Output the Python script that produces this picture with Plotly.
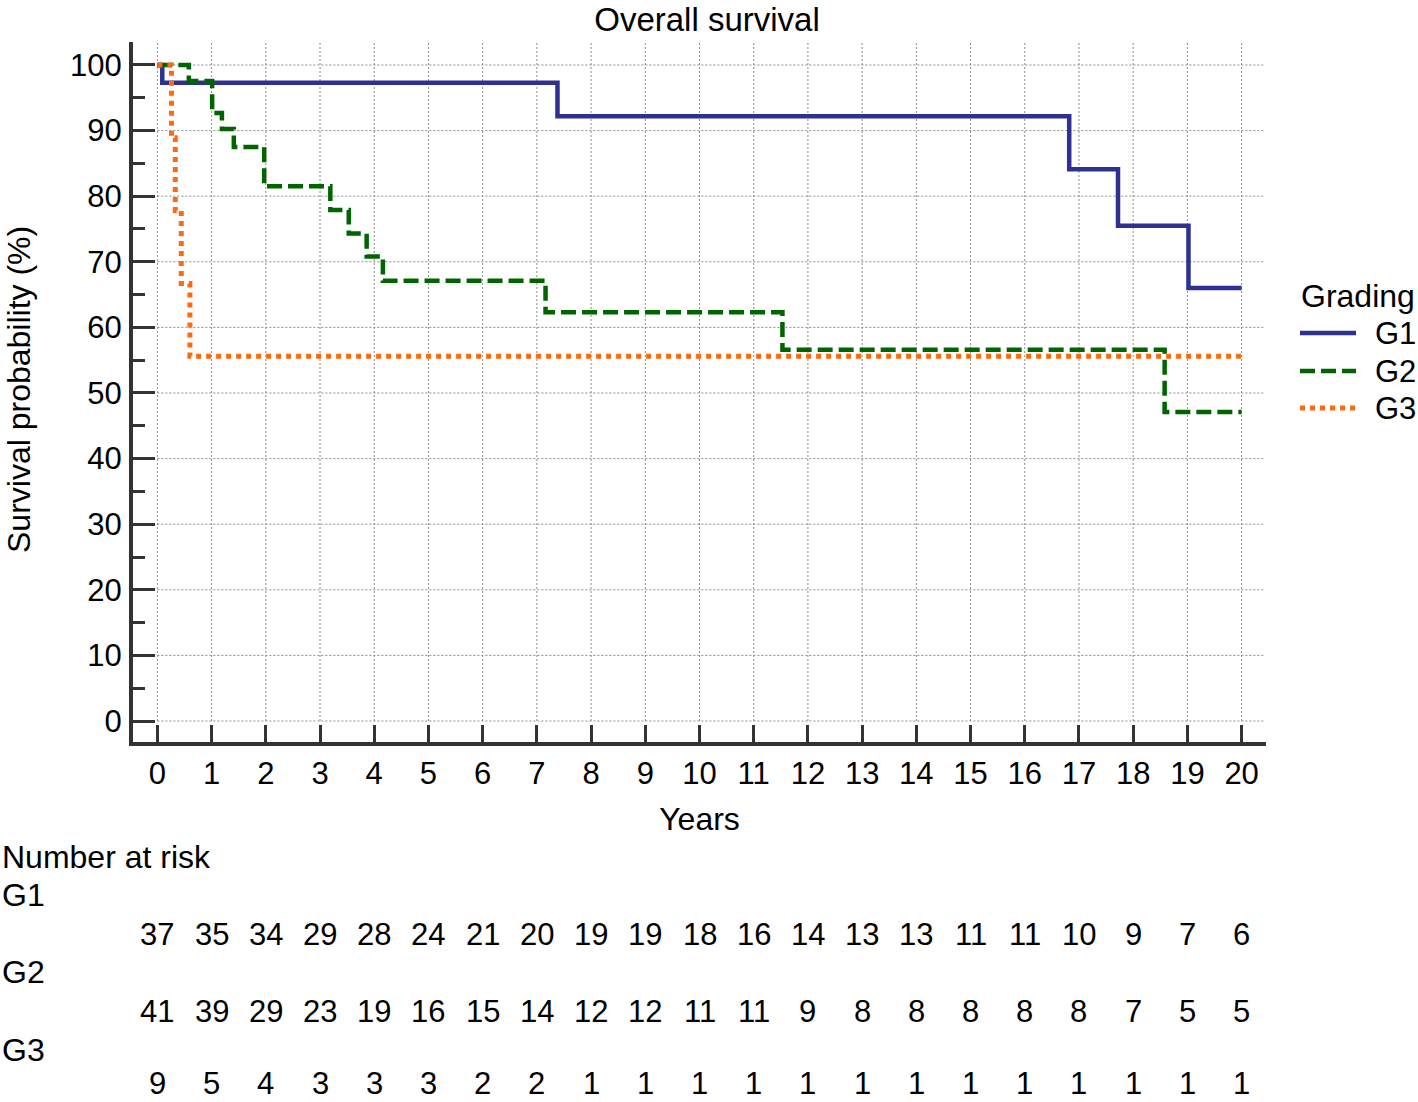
import plotly.graph_objects as go

# ---- data ----
g1_t = [0, 0.09, 7.38, 16.82, 17.72, 19.02, 20]
g1_s = [100, 97.3, 92.2, 84.1, 75.5, 66.0, 66.0]

g2_t = [0, 0.58, 1.01, 1.19, 1.41, 1.97, 3.19, 3.53, 3.86, 4.16, 7.16, 11.53, 18.58, 20]
g2_s = [100, 97.56, 92.68, 90.24, 87.5, 81.5, 77.9, 74.3, 70.8, 67.1, 62.3, 56.6, 47.1, 47.1]

g3_t = [0, 0.26, 0.33, 0.44, 0.60, 20]
g3_s = [100, 88.9, 77.8, 66.7, 55.6, 55.6]

years = list(range(0, 21))
yticks = list(range(0, 101, 10))
risk_g1 = [37, 35, 34, 29, 28, 24, 21, 20, 19, 19, 18, 16, 14, 13, 13, 11, 11, 10, 9, 7, 6]
risk_g2 = [41, 39, 29, 23, 19, 16, 15, 14, 12, 12, 11, 11, 9, 8, 8, 8, 8, 8, 7, 5, 5]
risk_g3 = [9, 5, 4, 3, 3, 3, 2, 2, 1, 1, 1, 1, 1, 1, 1, 1, 1, 1, 1, 1, 1]
groups = ["G1", "G2", "G3"]
colors = ["#2E3192", "#006400", "#FF6A10"]
dashes = ["solid", "15px,6px", "5px,5px"]
widths = [4.5, 4.5, 5]

FONT = "Liberation Sans, Arial, sans-serif"
FS = 31   # tick labels / numbers
FT = 32   # text labels

XMIN, XMAX = -0.45, 20.45
YMIN, YMAX = -3.2, 103.5

fig = go.Figure()
for t, s, g, c, d, w in zip([g1_t, g2_t, g3_t], [g1_s, g2_s, g3_s], groups, colors, dashes, widths):
    fig.add_trace(go.Scatter(x=t, y=s, mode="lines", line_shape="hv", name=g,
                             showlegend=False, line=dict(color=c, width=w, dash=d)))

# plot area: x 133..1266, y 42..742 in pixels
L, R, T, B = 133, 152, 42, 360
W, H = 1418, 1102
pw, ph = W - L - R, H - T - B

def py(p):
    return (H - B - p) / ph

def px(p):
    return (p - L) / pw

shapes = []
grid = dict(color="#8c8c8c", width=1, dash="2px,2px")
for xv in years:
    shapes.append(dict(type="line", xref="x", yref="y", x0=xv, x1=xv, y0=0, y1=YMAX,
                       line=grid, layer="below"))
for yv in yticks:
    shapes.append(dict(type="line", xref="x", yref="y", x0=0, x1=XMAX - 0.05, y0=yv, y1=yv,
                       line=grid, layer="below"))

ann = []
# y-axis title
ann.append(dict(text="Survival probability (%)", x=px(19), y=py(390), xref="paper", yref="paper",
                xanchor="center", yanchor="middle", textangle=-90, showarrow=False,
                font=dict(size=FT)))
ann.append(dict(text="Number at risk", x=px(0), y=py(857), xref="paper", yref="paper",
                xanchor="left", yanchor="middle", showarrow=False, font=dict(size=FT)))
rows = [(risk_g1, 895, 934), (risk_g2, 972, 1011), (risk_g3, 1050, 1083)]
for g, (vals, ly, ny) in zip(groups, rows):
    ann.append(dict(text=g, x=px(0), y=py(ly), xref="paper", yref="paper",
                    xanchor="left", yanchor="middle", showarrow=False, font=dict(size=FT)))
    for yr, v in zip(years, vals):
        ann.append(dict(text=str(v), x=yr, y=py(ny), xref="x", yref="paper",
                        xanchor="center", yanchor="middle", showarrow=False, font=dict(size=FS)))

# manual legend
ann.append(dict(text="Grading", x=px(1299), y=py(296), xref="paper", yref="paper",
                xanchor="left", yanchor="middle", showarrow=False, font=dict(size=FT)))
for g, c, d, w, ly in zip(groups, colors, dashes, widths, [333, 371, 408]):
    shapes.append(dict(type="line", xref="paper", yref="paper", x0=px(1300), x1=px(1356),
                       y0=py(ly), y1=py(ly), line=dict(color=c, width=w, dash=d)))
    ann.append(dict(text=g, x=px(1373), y=py(ly), xref="paper", yref="paper",
                    xanchor="left", yanchor="middle", showarrow=False, font=dict(size=FS)))

fig.update_layout(
    width=W, height=H,
    margin=dict(l=L, r=R, t=T, b=B, autoexpand=False),
    paper_bgcolor="white", plot_bgcolor="white",
    font=dict(family=FONT, size=FS, color="black"),
    title=dict(text="Overall survival", x=px(707), xref="paper", xanchor="center",
               y=1 - 19 / H, yanchor="middle", font=dict(size=33)),
    showlegend=False,
    annotations=ann,
    shapes=shapes,
)

fig.update_xaxes(
    range=[XMIN, XMAX], tickmode="array", tickvals=years, ticktext=[str(y) for y in years],
    showline=True, linecolor="#333333", linewidth=4, mirror=False, automargin=False,
    ticks="inside", ticklen=17, tickwidth=3, tickcolor="#333333", ticklabelstandoff=1,
    showgrid=False, zeroline=False, tickfont=dict(size=FS),
    title=dict(text="Years", standoff=18, font=dict(size=FT)),
)
fig.update_yaxes(
    range=[YMIN, YMAX], tickmode="array", tickvals=yticks,
    showline=True, linecolor="#333333", linewidth=4, mirror=False, automargin=False,
    ticks="inside", ticklen=22, tickwidth=3, tickcolor="#333333", ticklabelstandoff=1,
    minor=dict(ticks="inside", ticklen=12, tickwidth=3, tickcolor="#333333", dtick=5, tick0=0, showgrid=False),
    showgrid=False, zeroline=False, tickfont=dict(size=FS),
)

fig.write_html("out.html", config={"displayModeBar": False},
               post_script="document.body.style.margin='0';")
